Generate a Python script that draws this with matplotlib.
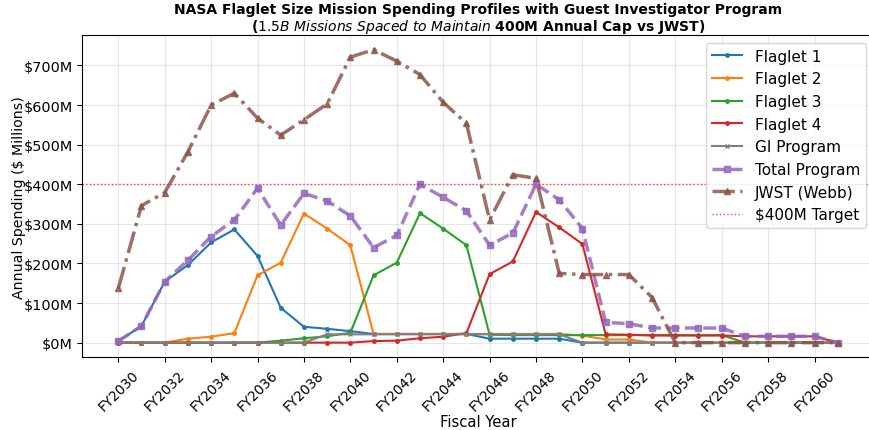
import matplotlib
matplotlib.use("Agg")
from matplotlib import pyplot as plt
from matplotlib.ticker import FuncFormatter

# fiscal years and spending ($M)
years = list(range(2030, 2062))

flaglet1 = [4, 42, 154, 196, 253, 286, 219, 88, 40, 35, 29, 22, 22, 22, 22, 22,
            10, 10, 10, 10, 0, 0, 0, 0, 0, 0, 0, 0, 0, 0, 0, 0]
flaglet2 = [0, 0, 0, 10, 15, 24, 170, 202, 326, 288, 246, 22, 22, 22, 22, 22,
            22, 22, 22, 22, 18, 8, 8, 0, 0, 0, 0, 0, 0, 0, 0, 0]
flaglet3 = [0, 0, 0, 0, 0, 0, 0, 5, 11, 16, 25, 170, 202, 327, 288, 246,
            20, 19, 19, 19, 19, 19, 19, 19, 19, 19, 19, 0, 0, 0, 0, 0]
flaglet4 = [0, 0, 0, 0, 0, 0, 0, 0, 0, 0, 0, 4, 5, 11, 15, 24,
            173, 205, 330, 291, 249, 21, 20, 18, 18, 18, 18, 16, 16, 16, 16, 0]
gi_program = [0, 0, 0, 0, 0, 0, 0, 0, 0, 21, 21, 21, 21, 21, 21, 21,
              21, 21, 21, 21, 0, 0, 0, 0, 0, 0, 0, 0, 0, 0, 0, 0]
total_program = [4, 42, 154, 208, 268, 310, 390, 297, 377, 358, 320, 240, 271, 400, 367, 333,
                 246, 277, 400, 361, 288, 51, 48, 37, 37, 37, 37, 16, 16, 16, 16, 0]
jwst = [137, 346, 379, 482, 600, 630, 567, 524, 563, 603, 721, 740, 711, 677, 607, 554,
        310, 424, 415, 175, 172, 172, 172, 114, 0, 0, 0, 0, 0, 0, 0, 0]
target = 400

tick_years = list(range(2030, 2061, 2))
tick_labels = ["FY%d" % y for y in tick_years]

fig = plt.figure(figsize=(8.69, 4.31), dpi=100)
ax = fig.add_axes([82.3 / 869, 72.7 / 431, 791.4 / 869, 322.3 / 431])

ax.plot(years, flaglet1, color='tab:blue', marker='o', markersize=2.5, linewidth=1.5, label='Flaglet 1')
ax.plot(years, flaglet2, color='tab:orange', marker='o', markersize=2.5, linewidth=1.5, label='Flaglet 2')
ax.plot(years, flaglet3, color='tab:green', marker='o', markersize=2.5, linewidth=1.5, label='Flaglet 3')
ax.plot(years, flaglet4, color='tab:red', marker='o', markersize=2.5, linewidth=1.5, label='Flaglet 4')
ax.plot(years, gi_program, color='tab:gray', marker='x', markersize=3, linewidth=1.5, label='GI Program')
ax.plot(years, total_program, color='tab:purple', marker='s', markersize=4, linewidth=2.5,
        linestyle='--', alpha=0.85, label='Total Program')
ax.plot(years, jwst, color='tab:brown', marker='^', markersize=4, linewidth=2.5,
        linestyle='-.', alpha=0.85, label='JWST (Webb)')
ax.axhline(target, color='red', linestyle=':', linewidth=1, alpha=0.7, label=r'\$400M Target')

ax.set_xlim(2028.45, 2062.55)
ax.set_ylim(-37, 777)
ax.set_xticks(tick_years)
ax.set_xticklabels(tick_labels, rotation=45)
ax.yaxis.set_major_formatter(FuncFormatter(lambda v, p: r"\$%dM" % v))
ax.tick_params(axis='y', labelsize=10.4)
ax.tick_params(axis='x', labelsize=9.8)

ax.set_xlabel("Fiscal Year", fontsize=10.6, labelpad=1)
ax.set_ylabel(r"Annual Spending (\$ Millions)", fontsize=10.2, labelpad=-2)
ax.set_title("NASA Flaglet Size Mission Spending Profiles with Guest Investigator Program\n"
             r"($1.5B\ Missions\ Spaced\ to\ Maintain\ $400M Annual Cap vs JWST)",
             fontsize=10, fontweight='bold', pad=3, linespacing=1.1)

ax.grid(True, alpha=0.3)
ax.legend(loc='upper right', fontsize=11)

fig.savefig("out.png", dpi=100)
